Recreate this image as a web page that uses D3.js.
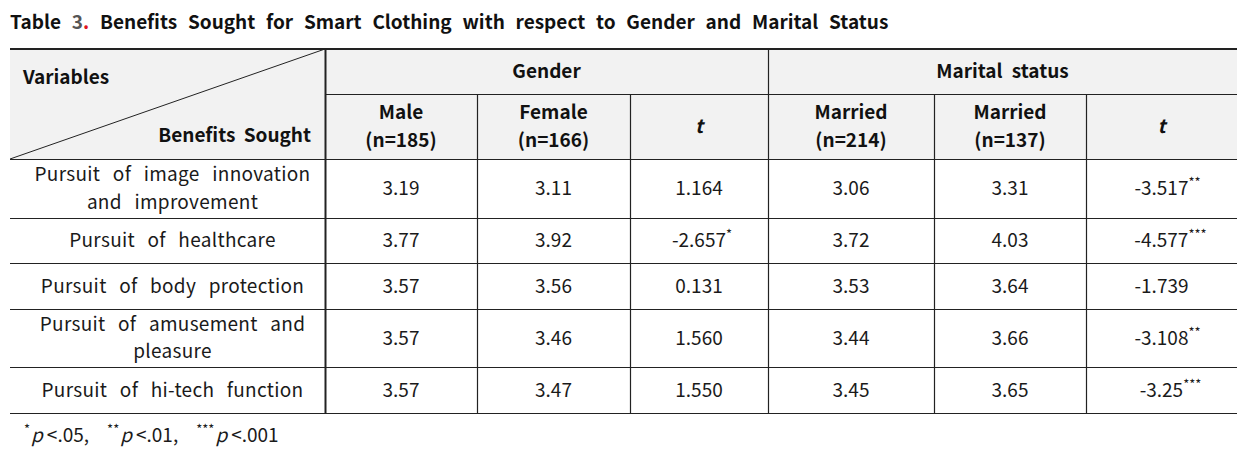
<!DOCTYPE html>
<html>
<head>
<meta charset="utf-8">
<script src="https://cdn.jsdelivr.net/npm/d3@7"></script>
<style>
  body { margin: 0; background: #fff; }
  text { font-family: "Noto Sans CJK KR", "Noto Sans", sans-serif; fill: #111; }
</style>
</head>
<body>
<svg id="table" width="1257" height="451"></svg>
<script>
// Data
const benefits = [
  ["Pursuit of image innovation", "and improvement"],
  ["Pursuit of healthcare"],
  ["Pursuit of body protection"],
  ["Pursuit of amusement and", "pleasure"],
  ["Pursuit of hi-tech function"],
];
const male = [3.19, 3.77, 3.57, 3.57, 3.57];
const female = [3.11, 3.92, 3.56, 3.46, 3.47];
const tGender = ["1.164", "-2.657", "0.131", "1.560", "1.550"];
const tGenderSig = ["", "*", "", "", ""];
const married = [3.06, 3.72, 3.53, 3.44, 3.45];
const married2 = [3.31, 4.03, 3.64, 3.66, 3.65];
const tMarital = ["-3.517", "-4.577", "-1.739", "-3.108", "-3.25"];
const tMaritalSig = ["**", "***", "", "**", "***"];
const groups = ["Gender", "Marital status"];
const subHeads = [
  ["Male", "(n=185)"],
  ["Female", "(n=166)"],
  ["t"],
  ["Married", "(n=214)"],
  ["Married", "(n=137)"],
  ["t"],
];
const footnotes = [["*", ".05"], ["**", ".01"], ["***", ".001"]];

// Layout
const colEdges = [10, 325, 477, 630, 768, 934, 1086, 1237];
const headTop = 49, headMid = 94, headBot = 159;
const rowEdges = [159, 218, 263, 309, 367, 413];
const lineH = 27.5;
const fmt = d3.format(".2f");

const svg = d3.select("#table");

// Title
const title = svg.append("text")
  .attr("x", 10).attr("y", 29)
  .style("font-size", "19px").style("font-weight", "700")
  .style("word-spacing", "6.5px");
title.append("tspan").text("Table ");
title.append("tspan").text("3").style("fill", "#555");
title.append("tspan").text(".").style("fill", "#e0141e");
title.append("tspan").text(" Benefits Sought for Smart Clothing with respect to Gender and Marital Status");

// Header background
svg.append("rect")
  .attr("x", colEdges[0]).attr("y", headTop)
  .attr("width", colEdges[7] - colEdges[0]).attr("height", headBot - headTop)
  .attr("fill", "#f2f2f2");

// Diagonal in corner cell
svg.append("line")
  .attr("x1", colEdges[0]).attr("y1", headBot)
  .attr("x2", colEdges[1]).attr("y2", headTop)
  .attr("stroke", "#222").attr("stroke-width", 1);

// Horizontal rules
const hLines = svg.append("g").attr("stroke", "#222");
hLines.append("line")
  .attr("x1", colEdges[0]).attr("x2", colEdges[7])
  .attr("y1", headTop).attr("y2", headTop).attr("stroke-width", 2);
hLines.append("line")
  .attr("x1", colEdges[1]).attr("x2", colEdges[7])
  .attr("y1", headMid + 0.5).attr("y2", headMid + 0.5);
hLines.selectAll("line.row")
  .data(rowEdges)
  .join("line")
  .attr("class", "row")
  .attr("x1", colEdges[0]).attr("x2", colEdges[7])
  .attr("y1", (d) => d + 0.5).attr("y2", (d) => d + 0.5)
  .attr("stroke-width", 1.2);

// Vertical rules
const vLines = svg.append("g").attr("stroke", "#222");
colEdges.slice(1, 7).forEach((x, i) => {
  const isGroup = i === 0 || i === 3;
  vLines.append("line")
    .attr("x1", x + 0.5).attr("x2", x + 0.5)
    .attr("y1", isGroup ? headTop : headMid).attr("y2", rowEdges[rowEdges.length - 1])
    .attr("stroke-width", i === 0 ? 2 : 1.2);
});

// Header texts
svg.append("text")
  .attr("x", 23).attr("y", 84)
  .style("font-size", "19px").style("font-weight", "700")
  .text("Variables");
svg.append("text")
  .attr("x", 311).attr("y", 142)
  .attr("text-anchor", "end")
  .style("font-size", "19px").style("font-weight", "700")
  .style("word-spacing", "4px")
  .text("Benefits Sought");

groups.forEach((g, i) => {
  const x0 = colEdges[1 + i * 3], x1 = colEdges[4 + i * 3];
  svg.append("text")
    .attr("x", (x0 + x1) / 2).attr("y", (headTop + headMid) / 2)
    .attr("dy", "0.35em").attr("text-anchor", "middle")
    .style("font-size", "19px").style("font-weight", "700")
    .style("word-spacing", "5px")
    .text(g);
});

// one <text> per line, stacked around cy
function multiLine(sel, lines, cx, cy, lh) {
  return sel.append("g")
    .selectAll("text")
    .data(lines)
    .join("text")
    .attr("x", cx)
    .attr("y", (d, k) => cy - ((lines.length - 1) * lh) / 2 + k * lh)
    .attr("dy", "0.35em")
    .attr("text-anchor", "middle")
    .text((d) => d);
}

subHeads.forEach((lines, j) => {
  const cx = (colEdges[j + 1] + colEdges[j + 2]) / 2;
  const cy = (headMid + headBot) / 2;
  multiLine(svg, lines, cx, cy, lineH)
    .style("font-size", "19px").style("font-weight", "700")
    .style("font-style", lines[0] === "t" ? "italic" : null);
});

// Body rows
const cols = [
  male.map(fmt),
  female.map(fmt),
  tGender,
  married.map(fmt),
  married2.map(fmt),
  tMarital,
];
const sigs = [null, null, tGenderSig, null, null, tMaritalSig];

benefits.forEach((lines, r) => {
  const cy = (rowEdges[r] + rowEdges[r + 1]) / 2;
  multiLine(svg, lines, (colEdges[0] + colEdges[1]) / 2 + 5, cy, lineH)
    .style("font-size", "19px").style("word-spacing", "8px")
    .style("letter-spacing", "0.3px")
    .style("fill", "#1a1a1a");

  cols.forEach((vals, j) => {
    const cx = (colEdges[j + 1] + colEdges[j + 2]) / 2;
    const sig = sigs[j] ? sigs[j][r] : "";
    const t = svg.append("text")
      .attr("x", cx + (sig ? sig.length * 3 : 0)).attr("y", cy)
      .attr("dy", "0.35em").attr("text-anchor", "middle")
      .style("font-size", "19px").style("fill", "#1a1a1a");
    t.append("tspan").text(vals[r]);
    if (sig) {
      t.append("tspan")
        .attr("dy", "-8")
        .style("font-size", "13px")
        .text(sig);
    }
  });
});

// Footnote
const foot = svg.append("text")
  .attr("x", 24).attr("y", 442)
  .style("font-size", "19px").style("fill", "#1a1a1a");
footnotes.forEach(([stars, p], i) => {
  foot.append("tspan").attr("dy", "-8").attr("dx", i ? "18" : "0")
    .style("font-size", "13px").text(stars);
  foot.append("tspan").attr("dy", "8").attr("dx", "1").style("font-style", "italic").text("p");
  foot.append("tspan").attr("dx", "4").text("<" + p + (i < footnotes.length - 1 ? "," : ""));
});
</script>
</body>
</html>
